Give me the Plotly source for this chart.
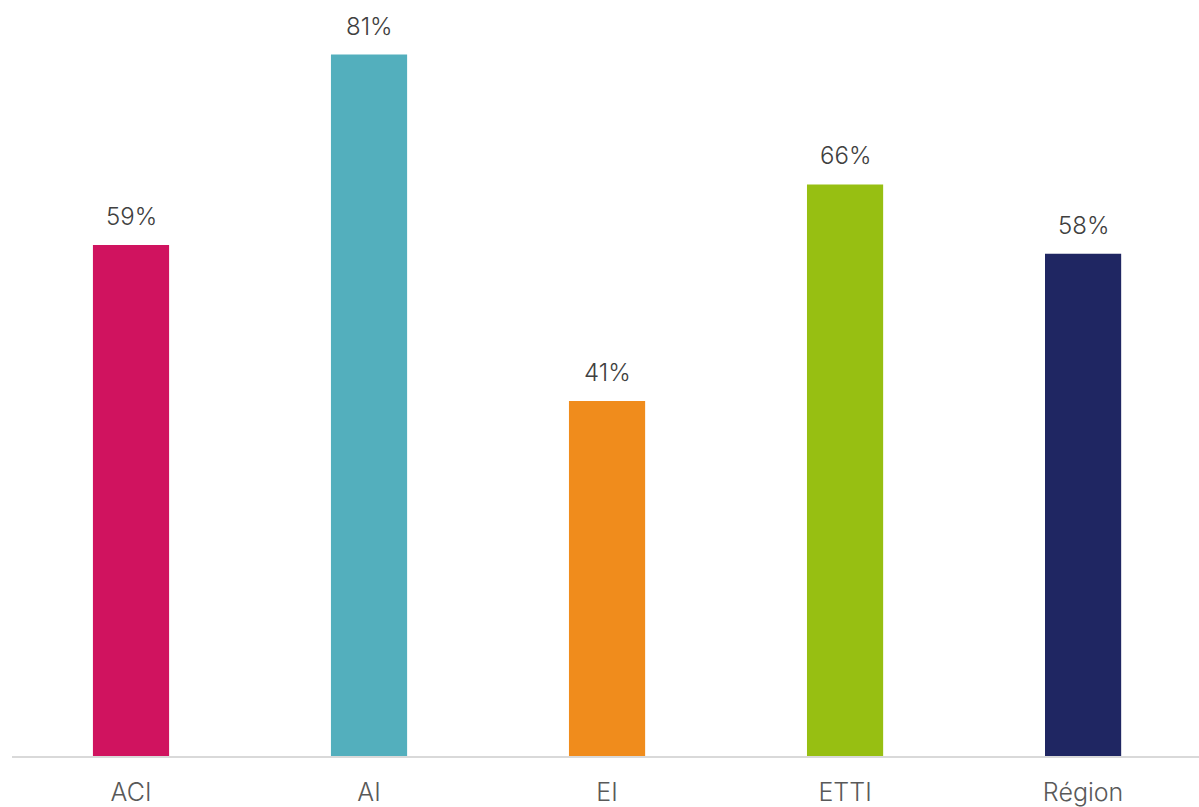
import plotly.graph_objects as go

categories = ["ACI", "AI", "EI", "ETTI", "Région"]
values = [59, 81, 41, 66, 58]
colors = ["#D0135F", "#53AFBD", "#F08C1C", "#97BF12", "#1F2662"]
labels = [f"{v}%" for v in values]

FONT = "Inter"

fig = go.Figure(
    go.Bar(
        x=categories,
        y=values,
        marker=dict(color=colors, line=dict(width=0)),
        hoverinfo="skip",
    )
)

# value labels above each bar
for c, v, t in zip(categories, values, labels):
    fig.add_annotation(
        x=c, y=v, text=t, showarrow=False,
        yanchor="bottom", yshift=12,
        font=dict(family=FONT, size=24, color="#404040", weight=300),
    )

fig.update_layout(
    width=1199,
    height=807,
    margin=dict(l=12, r=0, t=0, b=47),
    paper_bgcolor="white",
    plot_bgcolor="white",
    bargap=0.68,
    showlegend=False,
    font=dict(family=FONT, color="#595959"),
)
fig.update_xaxes(
    range=[-0.5, 4.487],
    showline=True, linecolor="#D9D9D9", linewidth=2,
    showgrid=False, ticks="", ticklabelstandoff=13,
    tickfont=dict(family=FONT, size=25, color="#595959", weight=300),
)
fig.update_yaxes(
    range=[0, 87.3], visible=False, showgrid=False, zeroline=False,
)

fig.write_html("out.html")
